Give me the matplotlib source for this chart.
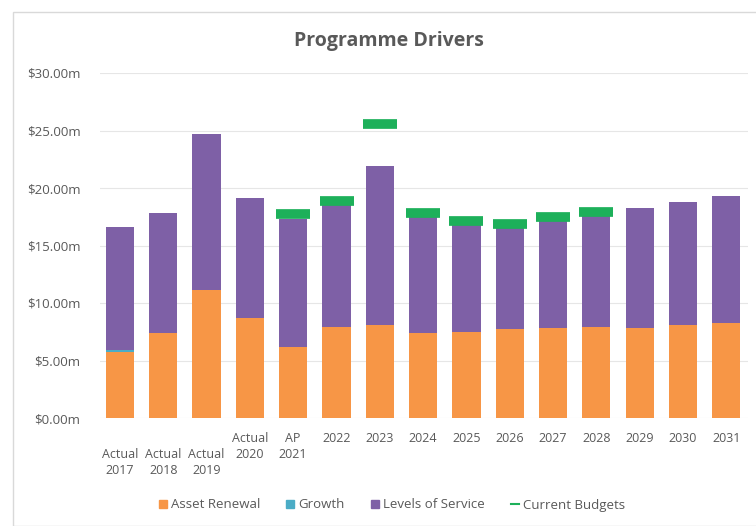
import matplotlib.pyplot as plt
from matplotlib.lines import Line2D
from matplotlib.patches import Patch, Rectangle
from matplotlib.ticker import FuncFormatter
import numpy as np

# data ($m)
categories = ["\nActual\n2017", "\nActual\n2018", "\nActual\n2019", "Actual\n2020", "AP\n2021",
              "2022", "2023", "2024", "2025", "2026", "2027", "2028", "2029", "2030", "2031"]
asset_renewal = [5.7, 7.4, 11.1, 8.7, 6.2, 7.9, 8.1, 7.4, 7.5, 7.7, 7.8, 7.9, 7.8, 8.1, 8.3]
growth = [0.2, 0, 0, 0, 0, 0, 0, 0, 0, 0, 0, 0, 0, 0, 0]
levels_of_service = [10.7, 10.4, 13.6, 10.4, 11.1, 10.7, 13.8, 10.1, 9.4, 9.1, 9.5, 9.9, 10.5, 10.7, 11.0]
current_budgets = [None, None, None, None, 17.7, 18.9, 25.6, 17.8, 17.1, 16.9, 17.5, 17.9, None, None, None]

C_ORANGE = "#F79646"
C_TEAL = "#4BACC6"
C_PURPLE = "#7E60A6"
C_GREEN = "#1DB05A"
C_TEXT = "#595959"

plt.rcParams['font.family'] = ['Open Sans', 'DejaVu Sans']

fig = plt.figure(figsize=(7.56, 5.26), dpi=100)
# chart area border
fig.patches.append(Rectangle((13 / 756, 0.0), 745 / 756, 1 - 12 / 526, transform=fig.transFigure,
                             fill=False, edgecolor="#D9D9D9", linewidth=1))
ax = fig.add_axes([100 / 756, 1 - 418 / 526, 648 / 756, 345 / 526])

x = np.arange(len(categories))
ar = np.array(asset_renewal)
gr = np.array(growth)
los = np.array(levels_of_service)
w = 0.65
ax.bar(x, ar, w, color=C_ORANGE, zorder=2)
ax.bar(x, gr, w, bottom=ar, color=C_TEAL, zorder=2)
ax.bar(x, los, w, bottom=ar + gr, color=C_PURPLE, zorder=2)

cb = np.array([np.nan if v is None else v for v in current_budgets])
ax.plot(x, cb, linestyle="none", marker="_", markersize=25, markeredgewidth=7,
        color=C_GREEN, zorder=3)

ax.set_ylim(0, 30)
ax.set_xlim(-0.46, len(categories) - 0.5)
ax.set_yticks(np.arange(0, 31, 5))
ax.yaxis.set_major_formatter(FuncFormatter(lambda v, p: f"${v:.2f}m"))
ax.grid(axis="y", color="#E6E6E6", linewidth=0.8, zorder=0)
ax.set_xticks(x)
ax.set_xticklabels(categories, fontsize=9, color=C_TEXT, linespacing=1.3)
ax.tick_params(axis="y", labelsize=9.5, colors=C_TEXT, length=0, pad=14)
ax.tick_params(axis="x", length=0, pad=10)
for s in ax.spines.values():
    s.set_visible(False)

fig.text(389 / 756, 1 - 41 / 526, "Programme Drivers", ha="center", va="center",
         fontsize=14, fontweight="bold", color=C_TEXT)

handles = [Patch(color=C_ORANGE, label="Asset Renewal"),
           Patch(color=C_TEAL, label="Growth"),
           Patch(color=C_PURPLE, label="Levels of Service"),
           Line2D([], [], color=C_GREEN, linewidth=1.5, label="Current Budgets")]
fig.legend(handles=handles, loc="center", bbox_to_anchor=(392 / 756, 1 - 505 / 526), ncol=4,
           frameon=False, fontsize=9.5, labelcolor=C_TEXT, handlelength=0.6, handleheight=0.6,
           handletextpad=0.3, columnspacing=2.0)

fig.savefig("out.png", dpi=100)
